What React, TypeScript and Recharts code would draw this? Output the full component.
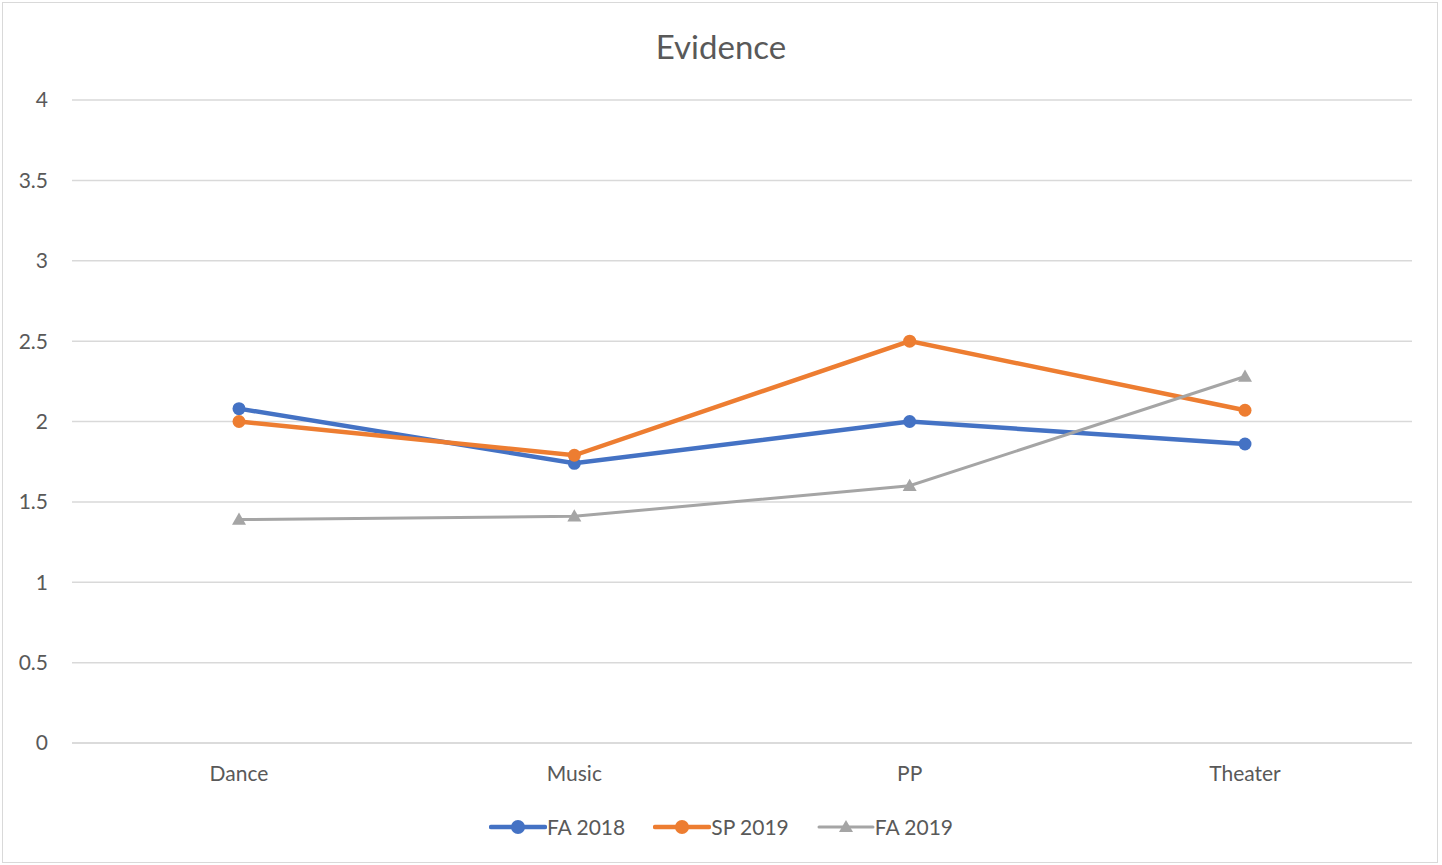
import React from 'react';
import { LineChart, Line, XAxis, YAxis, CartesianGrid } from 'recharts';

const categories = ['Dance', 'Music', 'PP', 'Theater'];
const fa2018 = [2.08, 1.74, 2.0, 1.86];
const sp2019 = [2.0, 1.79, 2.5, 2.07];
const fa2019 = [1.39, 1.41, 1.6, 2.28];
const yTicks = [0, 0.5, 1, 1.5, 2, 2.5, 3, 3.5, 4];

const series = [
  { key: 'fa2018', name: 'FA 2018', color: '#4472C4', width: 4.5, shape: 'circle' },
  { key: 'sp2019', name: 'SP 2019', color: '#ED7D31', width: 4.5, shape: 'circle' },
  { key: 'fa2019', name: 'FA 2019', color: '#A5A5A5', width: 3, shape: 'triangle' },
];

const data = categories.map((c, i) => ({
  name: c,
  fa2018: fa2018[i],
  sp2019: sp2019[i],
  fa2019: fa2019[i],
}));

const FONT = 'Lato, "Open Sans", sans-serif';

const Triangle = (props: any) => {
  const { cx, cy, fill } = props;
  if (cx == null || cy == null) return null;
  const s = 7;
  return <polygon points={`${cx},${cy - s} ${cx + s},${cy + s * 0.75} ${cx - s},${cy + s * 0.75}`} fill={fill} />;
};

const LegendBox = () => (
  <div
    style={{
      position: 'absolute', left: 0, top: 814, width: 1442,
      display: 'flex', justifyContent: 'center', gap: 28,
      fontFamily: FONT, fontSize: 21, color: '#595959',
    }}
  >
    {series.map((s) => (
      <div key={s.key} style={{ display: 'flex', alignItems: 'center' }}>
        <svg width={58} height={24}>
          <line x1={2} y1={12} x2={56} y2={12} stroke={s.color} strokeWidth={s.width} strokeLinecap="round" />
          {s.shape === 'circle' ? (
            <circle cx={29} cy={12} r={7} fill={s.color} />
          ) : (
            <polygon points="29,5 36,17 22,17" fill={s.color} />
          )}
        </svg>
        <span>{s.name}</span>
      </div>
    ))}
  </div>
);

export default function App() {
  return (
    <div style={{ position: 'absolute', left: 0, top: 0, width: 1442, height: 865, background: '#fff' }}>
      <div
        style={{
          position: 'absolute', left: 2, top: 2, width: 1436, height: 861,
          border: '1px solid #d9d9d9', boxSizing: 'border-box',
        }}
      />
      <div
        style={{
          position: 'absolute', left: 0, top: 26, width: 1442, textAlign: 'center',
          fontFamily: FONT, fontSize: 33, color: '#595959',
        }}
      >
        Evidence
      </div>
      <LineChart
        width={1442}
        height={865}
        data={data}
        margin={{ top: 100, right: 30, left: 0, bottom: 92 }}
        style={{ position: 'absolute', left: 0, top: 0 }}
      >
        <CartesianGrid vertical={false} stroke="#d9d9d9" strokeWidth={1.5} />
        <XAxis
          dataKey="name"
          height={30}
          padding={{ left: 167, right: 167 }}
          axisLine={{ stroke: '#d9d9d9', strokeWidth: 1.5 }}
          tickLine={false}
          tick={{ fill: '#595959', fontSize: 21, fontFamily: FONT }}
          tickMargin={17}
        />
        <YAxis
          width={72}
          domain={[0, 4]}
          ticks={yTicks}
          axisLine={false}
          tickLine={false}
          tickSize={8}
          tickMargin={16}
          tick={{ fill: '#595959', fontSize: 21, fontFamily: FONT }}
        />
        {series.map((s) => (
          <Line
            key={s.key}
            dataKey={s.key}
            name={s.name}
            type="linear"
            stroke={s.color}
            strokeWidth={s.width}
            dot={s.shape === 'circle' ? { r: 6.5, fill: s.color, stroke: 'none' } : <Triangle fill={s.color} />}
            activeDot={false}
            isAnimationActive={false}
          />
        ))}
      </LineChart>
      <LegendBox />
    </div>
  );
}
